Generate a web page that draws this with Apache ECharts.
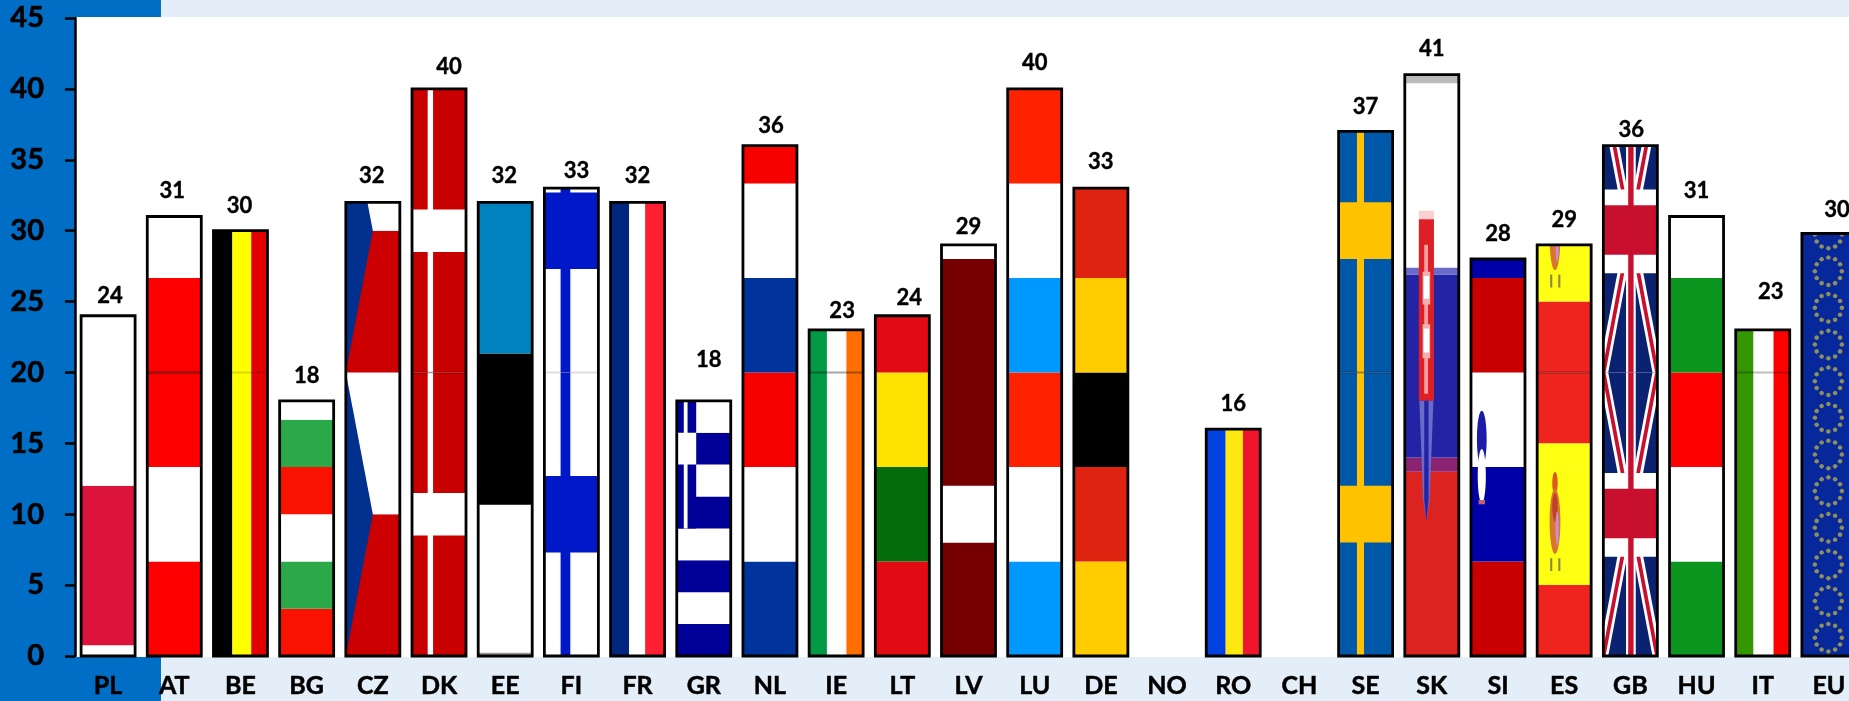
<!DOCTYPE html>
<html>
<head>
<meta charset="utf-8">
<title>Flags</title>
<style>
html, body { margin: 0; padding: 0; background: #E3EEF8; overflow: hidden; }
#main { width: 1849px; height: 701px; }
</style>
<script src="https://cdn.jsdelivr.net/npm/echarts@6/dist/echarts.min.js"></script>
</head>
<body>
<div id="main"></div>
<script>
var categories = ['PL', 'AT', 'BE', 'BG', 'CZ', 'DK', 'EE', 'FI', 'FR', 'GR', 'NL', 'IE', 'LT', 'LV', 'LU', 'DE', 'NO', 'RO', 'CH', 'SE', 'SK', 'SI', 'ES', 'GB', 'HU', 'IT', 'EU'];
var values = [24, 31, 30, 18, 32, 40, 32, 33, 32, 18, 36, 23, 24, 29, 40, 33, null, 16, null, 37, 41, 28, 29, 36, 31, 23, 29.8];

// label position: [shift right, distance above the bar top], by hand like in the original
var labelShift = [[2, 20], [-2, 26], [-1, 25], [0, 25], [-1, 26], [10, 22], [-1, 26], [5, 17], [0, 26], [5, 41], [1, 20], [6, 19], [7, 18], [0, 18], [0, 26], [0, 26], [0, 0], [0, 25], [0, 0], [0, 25], [0, 26], [0, 25], [0, 25], [1, 16], [0, 26], [8, 38], [8, 24]];

// dark seam where the flag picture repeats at 20
var seam = { AT: 0.5, BE: 0.15, DK: 0.2, FI: 0.12, IE: 0.35, SE: 0.25, ES: 0.3, IT: 0.25 };

// helpers for flags: u is 0-1 across the bar, v is in axis units
function hb(v0, v1, c) { return { k: 'h', v0: v0, v1: v1, c: c }; }
function vb(u0, u1, c) { return { k: 'v', u0: u0, u1: u1, c: c }; }
function box(u0, v0, u1, v1, c) { return { k: 'p', pts: [[u0, v0], [u1, v0], [u1, v1], [u0, v1]], c: c }; }
function poly(pts, c) { return { k: 'p', pts: pts, c: c }; }
function ell(u, v, ru, rv, c) { return { k: 'e', u: u, v: v, ru: ru, rv: rv, c: c }; }

// the same picture stacked every `unit`
function tile(unit, count, shapes) {
    var out = [];
    for (var t = 0; t < count; t++) {
        var d = unit * t;
        shapes.forEach(function (s) {
            if (s.k == 'h') out.push(hb(s.v0 + d, s.v1 + d, s.c));
            else if (s.k == 'p') out.push(poly(s.pts.map(function (p) { return [p[0], p[1] + d]; }), s.c));
            else if (s.k == 'e') out.push(ell(s.u, s.v + d, s.ru, s.rv, s.c));
            else out.push(s);
        });
    }
    return out;
}

function threeBands(a, b, c) {
    return tile(20, 2, [hb(0, 6.67, a), hb(6.67, 13.33, b), hb(13.33, 20, c)]);
}

var gbRed = '#C8102E', gbBlue = '#0A2270';
var greekBlue = '#000099';

var flags = {
    PL: [hb(0, 0.75, '#fff'), hb(0.75, 12, '#DC143C'), hb(12, 24, '#fff')],
    AT: threeBands('#FF0000', '#fff', '#FF0000'),
    BE: [vb(0, 0.35, '#000'), vb(0.35, 0.7, '#FFFF00'), vb(0.7, 1, '#E30000')],
    BG: tile(10, 2, [hb(0, 3.33, '#F91200'), hb(3.33, 6.67, '#2AA84A'), hb(6.67, 10, '#fff')]),
    CZ: tile(20, 2, [hb(0, 10, '#CC0000'), hb(10, 20, '#fff'), poly([[0, 0], [0.5, 10], [0, 20]], '#01308F')]),
    DK: tile(20, 2, [hb(0, 20, '#C80000'), box(0.29, 0, 0.39, 20, '#fff'), hb(8.5, 11.5, '#fff')]),
    EE: [hb(0, 0.25, '#999'), hb(0.25, 10.67, '#fff'), hb(10.67, 21.33, '#000'), hb(21.33, 32, '#0082BE')],
    FI: tile(20, 2, [hb(0, 20, '#fff'), box(0.3, 0, 0.48, 20, '#0018C8'), hb(7.3, 12.7, '#0018C8')]),
    FR: [vb(0, 0.345, '#00267F'), vb(0.345, 0.64, '#fff'), vb(0.64, 1, '#FF1F30')],
    GR: [hb(0, 2.25, greekBlue), hb(2.25, 4.5, '#fff'), hb(4.5, 6.75, greekBlue), hb(6.75, 9, '#fff'), hb(9, 11.25, greekBlue), hb(11.25, 13.5, '#fff'), hb(13.5, 15.75, greekBlue), hb(15.75, 18, '#fff'),
        box(0, 9, 0.36, 18, greekBlue), box(0, 13.5, 0.36, 15.75, '#fff'), box(0.13, 9, 0.2, 18, '#fff')],
    NL: threeBands('#00339C', '#fff', '#F70000'),
    IE: [vb(0, 0.33, '#009A44'), vb(0.33, 0.69, '#fff'), vb(0.69, 1, '#FF6F00')],
    LT: tile(20, 2, [hb(0, 6.67, '#E20B13'), hb(6.67, 13.33, '#056C0B'), hb(13.33, 20, '#FCE300')]),
    LV: [hb(0, 8, '#760000'), hb(8, 12, '#fff'), hb(12, 28, '#760000'), hb(28, 29, '#fff')],
    LU: threeBands('#0099FF', '#fff', '#FF2200'),
    DE: threeBands('#FFCC00', '#DE2410', '#000'),
    RO: [vb(0, 0.36, '#0041E0'), vb(0.36, 0.68, '#FFE810'), vb(0.68, 1, '#F0142D')],
    SE: tile(20, 2, [hb(0, 20, '#0059A8'), box(0.34, 0, 0.47, 20, '#FEC200'), hb(8, 12, '#FEC200')]),
    SK: [hb(0, 13, '#DB2320'), hb(13, 14, '#8C2370'), hb(14, 26.9, '#2323A5'), hb(26.9, 27.4, '#6A6AC8'), hb(27.4, 40.4, '#fff'), hb(40.4, 41, '#bbb'),
        box(0.26, 30.8, 0.54, 31.4, '#FAD0D0'),
        poly([[0.26, 30.8], [0.54, 30.8], [0.54, 18], [0.26, 18]], '#DC2026'),
        poly([[0.27, 18], [0.53, 18], [0.46, 11], [0.4, 9.5], [0.34, 11]], '#6A6AC8'),
        poly([[0.36, 18], [0.44, 18], [0.44, 11], [0.4, 9.5], [0.36, 11]], '#2323A5'),
        box(0.36, 18.5, 0.43, 29, '#F0A0A0'), box(0.33, 24.8, 0.47, 27.1, '#F2B0B0'), box(0.33, 21, 0.47, 23.4, '#F2B0B0'),
        box(0.35, 25.2, 0.45, 26.8, '#fff'), box(0.35, 21.4, 0.45, 23.1, '#fff')],
    SI: tile(20, 2, [hb(0, 6.67, '#C80000'), hb(6.67, 13.33, '#0000A8'), hb(13.33, 20, '#fff'),
        ell(0.2, 15.3, 0.09, 2, '#1C1CA8'), ell(0.2, 12.7, 0.075, 1.9, '#fff'), box(0.14, 10.7, 0.26, 11, '#C06070')]),
    ES: tile(20, 2, [hb(0, 5, '#F0241E'), hb(5, 15, '#FFFF14'), hb(15, 20, '#F0241E'),
        ell(0.33, 12.2, 0.05, 0.8, '#D85A20'), ell(0.33, 9.5, 0.1, 2.3, '#D8762C'), ell(0.33, 10.5, 0.05, 1, '#C0402C'), ell(0.37, 9, 0.03, 1.2, '#C88CD8'), box(0.24, 6, 0.28, 6.9, '#8C8C40'), box(0.39, 6, 0.43, 6.9, '#8C8C40')]),
    GB: tile(20, 2, [hb(0, 20, gbBlue),
        poly([[-0.09, 0], [0.09, 0], [1.09, 20], [0.91, 20]], '#fff'), poly([[0.91, 0], [1.09, 0], [0.09, 20], [-0.09, 20]], '#fff'),
        poly([[-0.03, 0], [0.04, 0], [1.03, 20], [0.96, 20]], gbRed), poly([[0.96, 0], [1.03, 0], [0.04, 20], [-0.03, 20]], gbRed),
        hb(7, 12.9, '#fff'), box(0.42, 0, 0.6, 20, '#fff'), hb(8.3, 11.8, gbRed), box(0.46, 0, 0.56, 20, gbRed)]),
    HU: threeBands('#0A961E', '#fff', '#FF0000'),
    IT: [vb(0, 0.33, '#359700'), vb(0.33, 0.7, '#fff'), vb(0.7, 1, '#FF0000')],
    EU: euFlag()
};

function euFlag() {
    var shapes = [hb(0, 30, '#06289A')];
    for (var k = 0; k < 12; k++) {
        var cv = 1.29 + 2.585 * k;
        for (var a = 0; a < 12; a++) {
            var ang = a * Math.PI / 6;
            shapes.push(ell(0.49 + 0.25 * Math.cos(ang), cv + 0.97 * Math.sin(ang), 0.042, 0.16, '#8F8F5E'));
        }
    }
    return shapes;
}

function renderFlag(params, api) {
    var i = api.value(0);
    var v = api.value(1);
    if (!(v > 0)) return;
    var top = api.coord([i, v]);
    var bottom = api.coord([i, 0]);
    var w = 54;
    var x = top[0] - w / 2;
    var h = bottom[1] - top[1];
    var name = categories[i];
    var yAt = function (val) { return api.coord([i, val])[1]; };
    var parts = [];

    flags[name].forEach(function (s) {
        if (s.k == 'h') {
            parts.push({ type: 'rect', shape: { x: x, y: yAt(s.v1), width: w, height: yAt(s.v0) - yAt(s.v1) }, style: { fill: s.c } });
        } else if (s.k == 'v') {
            parts.push({ type: 'rect', shape: { x: x + s.u0 * w, y: top[1], width: (s.u1 - s.u0) * w, height: h }, style: { fill: s.c } });
        } else if (s.k == 'p') {
            var pts = s.pts.map(function (p) { return [x + p[0] * w, yAt(p[1])]; });
            parts.push({ type: 'polygon', shape: { points: pts }, style: { fill: s.c } });
        } else {
            parts.push({ type: 'ellipse', shape: { cx: x + s.u * w, cy: yAt(s.v), rx: s.ru * w, ry: yAt(0) - yAt(s.rv) }, style: { fill: s.c } });
        }
    });
    if (seam[name]) {
        parts.push({ type: 'rect', shape: { x: x, y: yAt(20) - 1, width: w, height: 2 }, style: { fill: '#000', opacity: seam[name] } });
    }

    return {
        type: 'group',
        children: [
            { type: 'group', children: parts, clipPath: { type: 'rect', shape: { x: x, y: top[1], width: w, height: h } } },
            { type: 'rect', shape: { x: x, y: top[1], width: w, height: h }, style: { fill: 'none', stroke: '#000', lineWidth: 2.8 } },
            {
                type: 'text',
                x: top[0] + labelShift[i][0],
                y: top[1] - labelShift[i][1],
                style: { text: String(Math.round(v)), fill: '#000', stroke: '#000', lineWidth: 0.4, font: 'bold 22px Lato', textAlign: 'center', textVerticalAlign: 'middle' }
            }
        ]
    };
}

var myChart = echarts.init(document.getElementById('main'), null, { renderer: 'canvas' });

var option = {
    animation: false,
    backgroundColor: '#E3EEF8',
    graphic: [
        { type: 'rect', z: -2, silent: true, shape: { x: 0, y: 0, width: 161, height: 701 }, style: { fill: '#006EC4' } },
        { type: 'rect', z: -1, silent: true, shape: { x: 75, y: 17, width: 1774, height: 640 }, style: { fill: '#fff' } }
    ],
    grid: { left: 75, top: 18, width: 1787, height: 638, outerBoundsMode: 'none' },
    xAxis: {
        type: 'category',
        data: categories,
        axisLine: { show: false },
        axisTick: { show: false },
        axisLabel: { interval: 0, margin: 17, color: '#000', fontFamily: 'Lato', fontWeight: 'bold', fontSize: 25, textBorderColor: '#000', textBorderWidth: 0.5 }
    },
    yAxis: {
        type: 'value',
        min: 0,
        max: 45,
        interval: 5,
        splitLine: { show: false },
        axisLine: { show: true, lineStyle: { color: '#000', width: 2.5 } },
        axisTick: { show: true, length: 10, lineStyle: { color: '#000', width: 2.5 } },
        axisLabel: { margin: 31, color: '#000', fontFamily: 'Lato', fontWeight: 'bold', fontSize: 29, textBorderColor: '#000', textBorderWidth: 0.6 }
    },
    series: [{
        type: 'custom',
        clip: false,
        renderItem: renderFlag,
        encode: { x: 0, y: 1 },
        data: values.map(function (v, i) { return [i, v]; })
    }]
};

myChart.setOption(option, true);
</script>
</body>
</html>
